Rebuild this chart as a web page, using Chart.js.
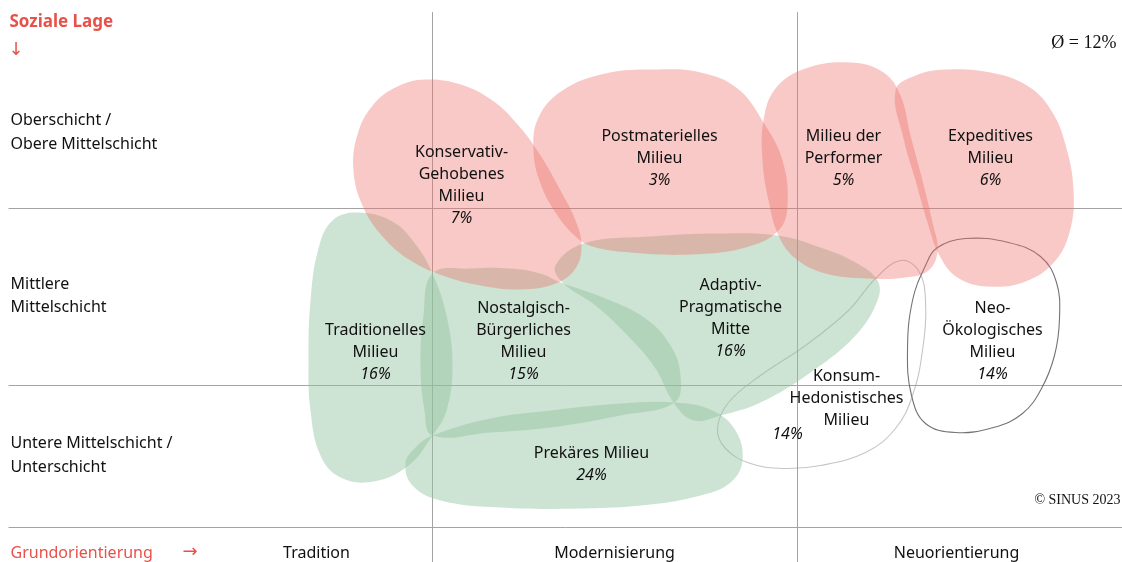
<!DOCTYPE html>
<html lang="de">
<head>
<meta charset="utf-8">
<title>Die Sinus-Milieus in Deutschland 2023</title>
<script src="https://cdn.jsdelivr.net/npm/chart.js@4.4.1/dist/chart.umd.min.js"></script>
<style>
  html, body { margin: 0; padding: 0; background: #fff; }
  #wrap { width: 1122px; height: 562px; }
</style>
</head>
<body>
<div id="wrap"><canvas id="milieu-chart"></canvas></div>
<script>
// coordinates are in the frame of the original chart (1122 x 562, y grows downwards)
const milieuNames = [
  ["Konservativ-", "Gehobenes", "Milieu"],
  ["Postmaterielles", "Milieu"],
  ["Milieu der", "Performer"],
  ["Expeditives", "Milieu"],
  ["Traditionelles", "Milieu"],
  ["Nostalgisch-", "Bürgerliches", "Milieu"],
  ["Adaptiv-", "Pragmatische", "Mitte"],
  ["Prekäres Milieu"],
  ["Konsum-", "Hedonistisches", "Milieu"],
  ["Neo-", "Ökologisches", "Milieu"],
];
const milieuShares = [7, 3, 5, 6, 16, 15, 16, 24, 14, 14];
const milieuGroups = ["upper", "upper", "upper", "upper", "mid", "mid", "mid", "mid", "outline-light", "outline-dark"];
const nameAnchors = [[461, 152], [659, 136], [843, 136], [990, 136], [375, 330], [523, 308], [730, 285], [591, 453], [846, 376], [992, 308]];
const shareAnchors = [[461, 218], [659, 180], [843, 180], [990, 180], [375, 374], [523, 374], [730, 351], [591, 475], [787, 434], [992, 374]];

// blob outlines
const outlineKonservativ = [[425, 79], [460, 84], [492, 100], [518, 125], [540, 155], [560, 190], [575, 220], [581, 245], [575, 268], [555, 283], [520, 289], [480, 285], [445, 276], [410, 260], [382, 236], [362, 205], [353, 170], [357, 134], [373, 104], [397, 86]];
const outlinePostmateriell = [[655, 69], [700, 72], [737, 88], [763, 122], [782, 160], [787, 205], [778, 230], [745, 247], [690, 254], [630, 252], [592, 246], [575, 236], [555, 212], [540, 183], [533, 150], [538, 117], [562, 90], [605, 73]];
const outlinePerformer = [[850, 62], [883, 72], [900, 95], [910, 135], [922, 180], [932, 222], [937, 250], [928, 270], [905, 277], [867, 278], [825, 273], [795, 258], [778, 235], [768, 200], [762, 160], [763, 120], [775, 88], [805, 68]];
const outlineExpeditiv = [[895, 90], [915, 75], [945, 69], [990, 72], [1028, 86], [1052, 112], [1066, 148], [1073, 190], [1070, 228], [1055, 260], [1025, 281], [987, 286], [957, 277], [939, 255], [927, 222], [915, 180], [903, 138]];
const outlineTraditionell = [[357, 212], [392, 221], [416, 245], [432, 273], [446, 315], [452, 365], [446, 410], [432, 435], [408, 465], [373, 481], [340, 477], [320, 455], [310, 410], [308, 360], [310, 300], [318, 248], [332, 220]];
const outlineNostalgisch = [[432, 273], [470, 268], [510, 268], [540, 273], [560, 282], [605, 298], [645, 318], [670, 345], [680, 375], [674, 402], [620, 415], [550, 427], [490, 432], [432, 435], [424, 410], [420, 365], [423, 315]];
const outlineAdaptiv = [[583, 243], [650, 236], [720, 233], [777, 235], [820, 247], [855, 262], [877, 280], [877, 300], [855, 335], [810, 372], [760, 402], [720, 415], [693, 420], [673, 402], [655, 368], [630, 338], [595, 305], [562, 282], [555, 265]];
const outlinePrekaer = [[432, 435], [490, 418], [550, 410], [620, 403], [675, 402], [712, 410], [735, 430], [742, 460], [730, 482], [700, 495], [650, 504], [580, 508], [500, 507], [440, 500], [412, 485], [405, 463], [415, 447]];
const outlineKonsum = [[900, 260], [918, 270], [925, 300], [922, 350], [912, 395], [895, 428], [865, 452], [820, 465], [783, 468], [750, 463], [725, 448], [717, 428], [728, 402], [760, 375], [805, 345], [848, 310], [875, 278]];
const outlineNeo = [[937, 247], [965, 238], [1008, 242], [1040, 256], [1056, 282], [1059, 318], [1054, 355], [1041, 388], [1022, 413], [993, 427], [955, 432], [925, 423], [911, 395], [907, 350], [912, 300], [925, 265]];
const milieuOutlines = [outlineKonservativ, outlinePostmateriell, outlinePerformer, outlineExpeditiv, outlineTraditionell, outlineNostalgisch, outlineAdaptiv, outlinePrekaer, outlineKonsum, outlineNeo];

// grid
const columnLines = [432, 797];
const rowLines = [208, 385, 527];
const gridTop = 12;
const gridLeft = 8;

const rowLabels = [["Oberschicht /", 120], ["Obere Mittelschicht", 144], ["Mittlere", 284], ["Mittelschicht", 307], ["Untere Mittelschicht /", 443], ["Unterschicht", 467]];
const columnLabels = [["Tradition", 316], ["Modernisierung", 614], ["Neuorientierung", 956]];

const RED = "#e8514a";
const FONT = "'Noto Sans', 'Open Sans', sans-serif";

const fills = {
  upper: "rgba(236, 109, 101, 0.37)",
  mid: "rgba(145, 195, 160, 0.46)",
};
const strokes = {
  "outline-light": "rgba(150, 150, 150, 0.55)",
  "outline-dark": "rgba(90, 90, 90, 0.85)",
};

const toPoints = (arr) => arr.map(([x, y]) => ({ x, y }));

const blobSets = milieuOutlines.map((outline, i) => {
  const group = milieuGroups[i];
  const filled = !!fills[group];
  return {
    label: milieuNames[i].join(" "),
    data: toPoints(outline),
    closed: true,
    showLine: true,
    tension: 0.4,
    pointRadius: 0,
    borderWidth: filled ? 0 : 1.1,
    borderColor: filled ? "transparent" : strokes[group],
    backgroundColor: filled ? fills[group] : "transparent",
    fill: filled ? "shape" : false,
  };
});

const gridSets = [
  ...columnLines.map((x) => ({ data: [{ x, y: gridTop }, { x, y: 562 }] })),
  ...rowLines.map((y) => ({ data: [{ x: gridLeft, y }, { x: 1122, y }] })),
].map((d) => ({
  ...d,
  showLine: true,
  pointRadius: 0,
  borderWidth: 1,
  borderColor: "#a3a3a3",
  fill: false,
}));

// let the blob lines run round as closed curves
const closedOutlines = {
  id: "closedOutlines",
  afterDatasetUpdate(chart, args) {
    const ds = chart.data.datasets[args.index];
    const line = args.meta.dataset;
    if (!ds.closed || !line) return;
    line._loop = true;
    line._fullLoop = true;
  },
};

const milieuLabels = {
  id: "milieuLabels",
  afterDatasetsDraw(chart) {
    const { ctx } = chart;
    const { x, y } = chart.scales;
    const px = (v) => x.getPixelForValue(v);
    const py = (v) => y.getPixelForValue(v);
    ctx.save();
    ctx.textBaseline = "middle";
    ctx.fillStyle = "#111";

    // milieu names and shares
    ctx.textAlign = "center";
    milieuNames.forEach((lines, i) => {
      const [ax, ay] = nameAnchors[i];
      ctx.font = `16px ${FONT}`;
      lines.forEach((txt, j) => ctx.fillText(txt, px(ax), py(ay + j * 22)));
      const [sx, sy] = shareAnchors[i];
      ctx.font = `italic 16px ${FONT}`;
      ctx.fillText(milieuShares[i] + "%", px(sx), py(sy));
    });

    // row and column labels
    ctx.textAlign = "left";
    ctx.font = `16px ${FONT}`;
    rowLabels.forEach(([txt, ly]) => ctx.fillText(txt, px(10), py(ly)));
    ctx.textAlign = "center";
    columnLabels.forEach(([txt, lx]) => ctx.fillText(txt, px(lx), py(553)));

    // axis titles
    ctx.textAlign = "left";
    ctx.fillStyle = RED;
    ctx.font = `bold 17px ${FONT}`;
    ctx.fillText("Soziale Lage", px(9), py(22));
    ctx.font = "18px 'DejaVu Sans', sans-serif";
    ctx.fillText("↓", px(8), py(50));
    ctx.font = `16px ${FONT}`;
    ctx.fillText("Grundorientierung", px(10), py(553));
    ctx.font = "18px 'DejaVu Sans', sans-serif";
    ctx.fillText("→", px(182), py(552));

    // average and copyright
    ctx.fillStyle = "#111";
    ctx.textAlign = "right";
    ctx.font = "18px 'Liberation Serif', serif";
    ctx.fillText("Ø = 12%", px(1116), py(43));
    ctx.font = "14px 'Liberation Serif', serif";
    ctx.fillText("© SINUS 2023", px(1120), py(500));
    ctx.restore();
  },
};

new Chart(document.getElementById("milieu-chart"), {
  type: "scatter",
  data: { datasets: [...blobSets, ...gridSets] },
  options: {
    responsive: true,
    maintainAspectRatio: false,
    animation: false,
    layout: { padding: 0 },
    scales: {
      x: { type: "linear", display: false, min: -0.5, max: 1121.5 },
      y: { type: "linear", display: false, reverse: true, min: -0.5, max: 561.5 },
    },
    plugins: {
      legend: { display: false },
      tooltip: { enabled: false },
    },
  },
  plugins: [closedOutlines, milieuLabels],
});
</script>
</body>
</html>
